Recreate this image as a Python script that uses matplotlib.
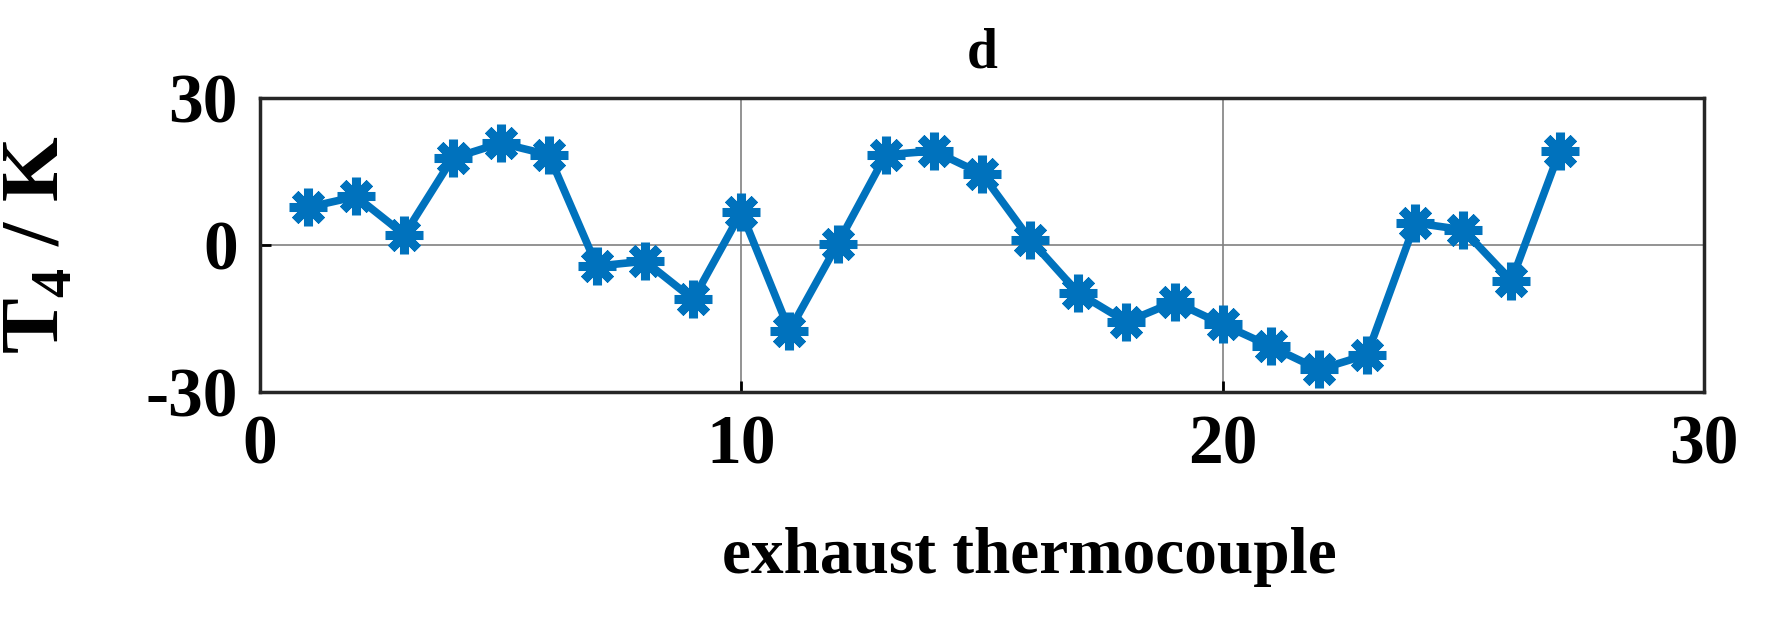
import numpy as np
import matplotlib
matplotlib.use('Agg')
import matplotlib.pyplot as plt

# thermocouple index and temperature deviation
tc_index = np.arange(1, 28)
t4_dev = [7.7, 9.9, 2.1, 17.7, 20.8, 18.4, -4.3, -3.3, -11.1, 6.7,
          -17.5, 0.2, 18.4, 19.2, 14.5, 1.1, -9.8, -15.7, -11.6, -16.2,
          -20.7, -25.4, -22.4, 4.5, 3.1, -7.3, 19.1]

x_ticks = [0, 10, 20, 30]
y_ticks = [-30, 0, 30]

plt.rcParams['font.family'] = ['Liberation Serif', 'DejaVu Serif']
plt.rcParams['font.weight'] = 'bold'
plt.rcParams['axes.unicode_minus'] = False
plt.rcParams['mathtext.fontset'] = 'custom'
plt.rcParams['mathtext.bf'] = 'Liberation Serif:bold'
plt.rcParams['mathtext.rm'] = 'Liberation Serif:bold'

fig = plt.figure(figsize=(17.72, 6.18), dpi=100)
ax = fig.add_axes([260 / 1772, 1 - 392 / 618, (1704 - 260) / 1772, (392 - 98) / 618])

ax.plot(tc_index, t4_dev, color='#0072BD', linewidth=5.5,
        marker=(8, 2, 0), markersize=27, markeredgewidth=6.5)

ax.set_xlim(0, 30)
ax.set_ylim(-30, 30)
ax.set_xticks(x_ticks)
ax.set_yticks(y_ticks)
ax.grid(True, color='#808080', linewidth=1.2)
ax.tick_params(direction='in', length=8, width=2, labelsize=50, pad=16)
for lbl in ax.get_xticklabels() + ax.get_yticklabels():
    lbl.set_fontweight('bold')
for s in ax.spines.values():
    s.set_linewidth(2.5)
    s.set_color('#262626')

ax.set_xlabel('exhaust thermocouple', fontsize=47, fontweight='bold')
ax.xaxis.set_label_coords(0.533, -0.46)
ax.set_ylabel(r'T$_{\mathrm{4}}$ / K', fontsize=60, fontweight='bold')
ax.yaxis.set_label_coords(-0.127, 0.5)
ax.set_title('d', fontsize=40, fontweight='bold', pad=22)

fig.savefig('out.png', dpi=100)
